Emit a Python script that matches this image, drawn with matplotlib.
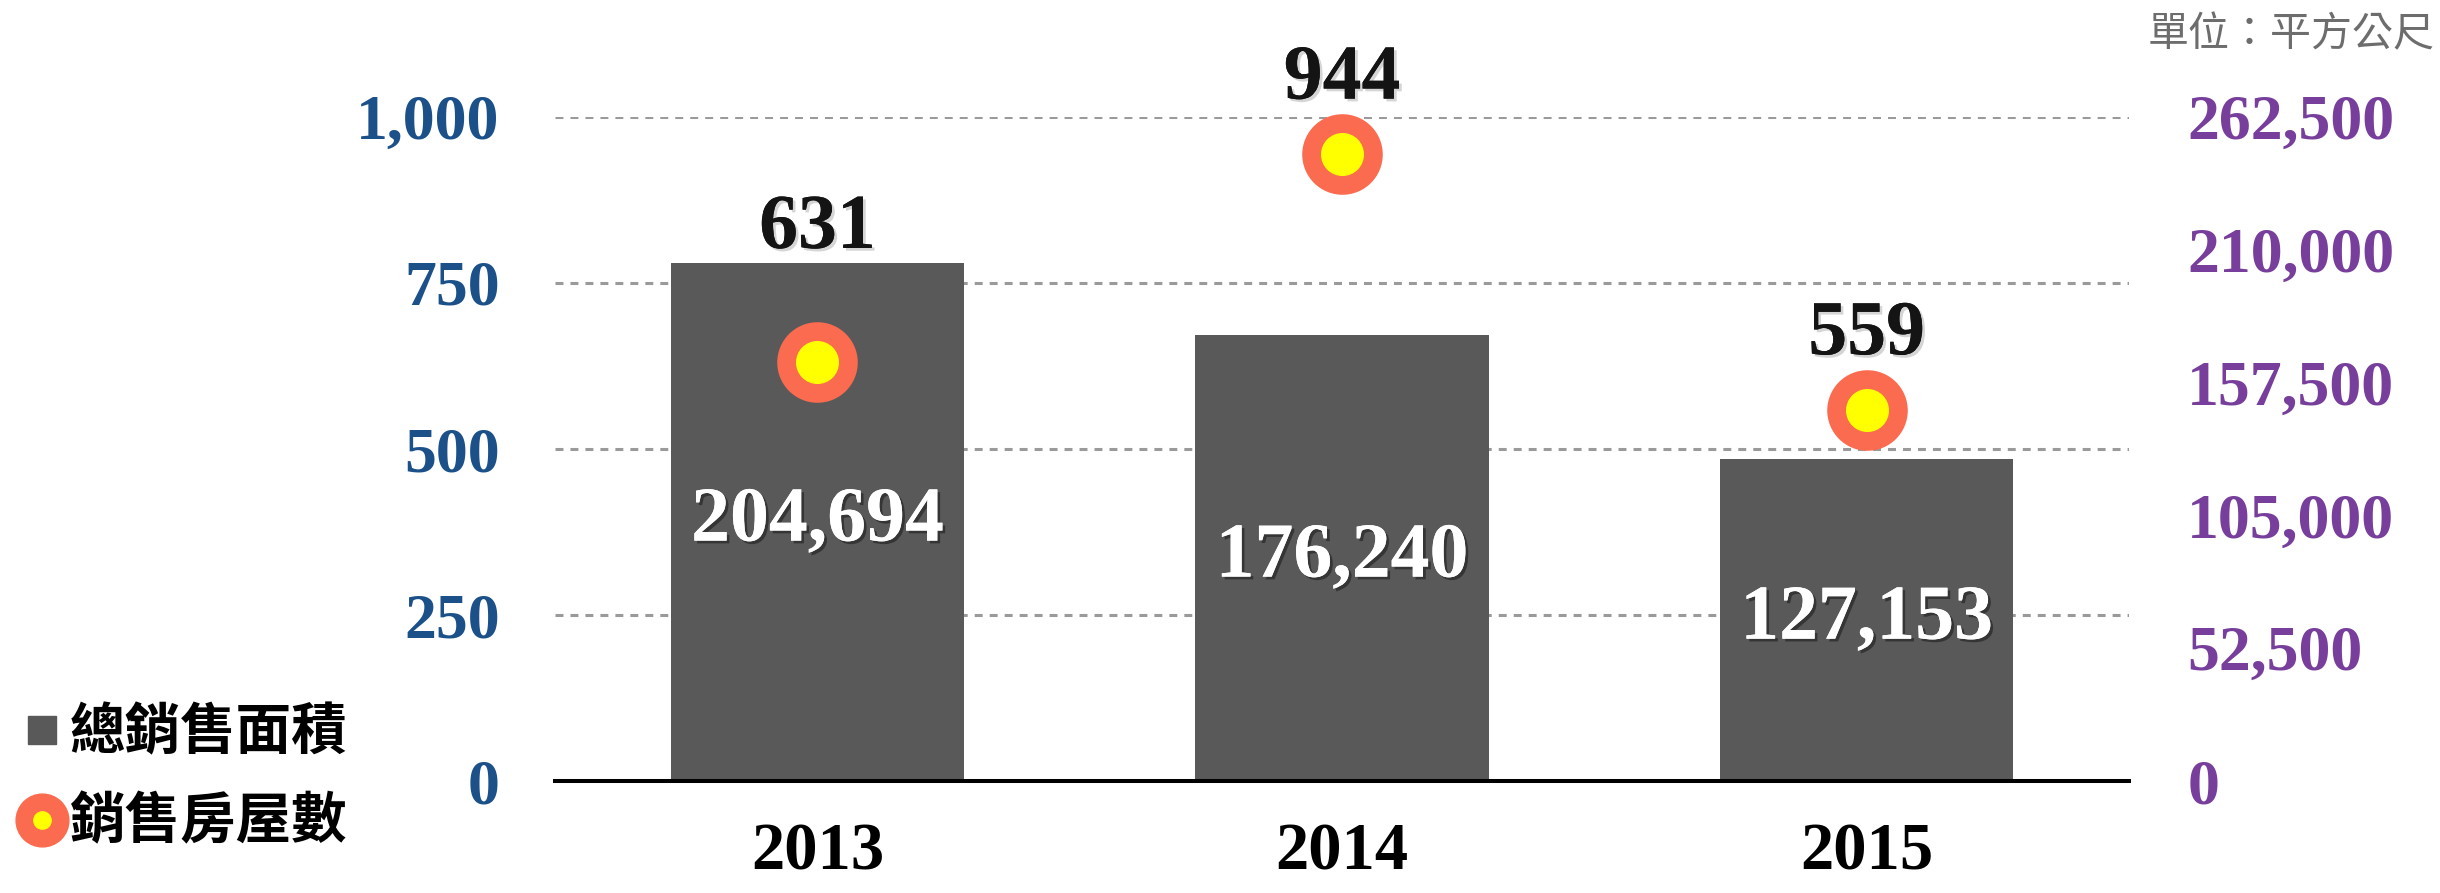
import matplotlib.pyplot as plt
import matplotlib.patheffects as pe
from matplotlib.lines import Line2D
import numpy as np

years = ["2013", "2014", "2015"]
area = [204694, 176240, 127153]
houses = [631, 944, 559]
left_ticks = [0, 250, 500, 750, 1000]
right_ticks = [0, 52500, 105000, 157500, 210000, 262500]
legend_labels = ["總銷售面積", "銷售房屋數"]
unit_text = "單位：平方公尺"

plt.rcParams["font.family"] = ["Liberation Serif"]
plt.rcParams["font.weight"] = "bold"
cjk = ["Noto Sans CJK TC", "DejaVu Sans"]

bar_color = "#5a5959"
ring_color = "#fa6b4f"
dot_color = "#ffff00"

fig = plt.figure(figsize=(24.4, 8.93), dpi=100)
ax = fig.add_axes([0.2275, 0.1254, 0.645, 0.7436])
ax2 = ax.twinx()
ax.set_zorder(2)
ax2.set_zorder(1)
ax.patch.set_visible(False)

x = np.arange(len(years))
left_max = left_ticks[-1]
right_max = right_ticks[-1]

# dashed grid follows the left ticks, drawn under the bars
for t in left_ticks[1:]:
    ax2.axhline(t / left_max * right_max, color="#9a9a9a", linewidth=2.2,
                linestyle=(0, (2.6, 2.3)), zorder=1)

# bars on the right axis (area)
ax2.bar(x, area, width=0.56, color=bar_color, zorder=2)
ax2.set_ylim(0, right_max)
ax2.set_yticks(right_ticks)
ax2.set_yticklabels([f"{v:,}" for v in right_ticks])
ax2.tick_params(axis="y", length=0, pad=42, labelsize=46, labelcolor="#773f9b")

white_shadow = [pe.withSimplePatchShadow(offset=(2, -2), shadow_rgbFace="black", alpha=0.4), pe.Normal()]
for xi, v in zip(x, area):
    ax2.text(xi, v / 2, f"{v:,}", ha="center", va="center", color="white",
             fontsize=56, zorder=3, path_effects=white_shadow)

# markers on the left axis (houses)
ax.plot(x, houses, "o", ms=58, mfc=ring_color, mec="none", clip_on=False, zorder=3)
ax.plot(x, houses, "o", ms=31, mfc=dot_color, mec="none", clip_on=False, zorder=4)
ax.set_xlim(-0.5, 2.5)
ax.set_ylim(0, left_max)
ax.set_yticks(left_ticks)
ax.set_yticklabels([f"{v:,}" for v in left_ticks])
ax.set_xticks(x, years)
ax.tick_params(axis="y", length=0, pad=40, labelsize=46, labelcolor="#1b5088")
ax.tick_params(axis="x", length=0, pad=30, labelsize=48, labelcolor="black")

for s in ["top", "left", "right"]:
    ax.spines[s].set_visible(False)
    ax2.spines[s].set_visible(False)
ax2.spines["bottom"].set_visible(False)
ax.spines["bottom"].set_linewidth(2.9)
ax.spines["bottom"].set_color("black")

# house count labels above whichever is higher: marker or bar
units_per_px = left_max / (ax.get_position().height * fig.get_figheight() * fig.dpi)
marker_r = 29 / 72 * fig.dpi * units_per_px
dark_shadow = [pe.withSimplePatchShadow(offset=(2, -2), shadow_rgbFace="#888888", alpha=0.35), pe.Normal()]
for xi, h, a in zip(x, houses, area):
    anchor = max(h + marker_r, a / right_max * left_max)
    ax.annotate(str(h), (xi, anchor), xytext=(0, 11), textcoords="offset points",
                ha="center", va="baseline", fontsize=56, color="#141414",
                annotation_clip=False, path_effects=dark_shadow)

# legend
fig.add_artist(Line2D([42 / 2440], [1 - 730 / 893], marker="s", ms=19.5, color=bar_color,
                      linestyle="none", transform=fig.transFigure))
fig.add_artist(Line2D([42 / 2440], [1 - 820 / 893], marker="o", ms=38, color=ring_color,
                      linestyle="none", transform=fig.transFigure))
fig.add_artist(Line2D([42 / 2440], [1 - 820 / 893], marker="o", ms=12.5, color=dot_color,
                      linestyle="none", transform=fig.transFigure))
fig.text(70 / 2440, 1 - 733 / 893, legend_labels[0], family=cjk, weight="heavy",
         fontsize=40, va="center", ha="left")
fig.text(70 / 2440, 1 - 822 / 893, legend_labels[1], family=cjk, weight="heavy",
         fontsize=40, va="center", ha="left")

fig.text(2435 / 2440, 1 - 35 / 893, unit_text, family=cjk, weight="normal",
         fontsize=29.5, color="#6d6d6d", va="center", ha="right")

fig.savefig("out.png", dpi=100)
